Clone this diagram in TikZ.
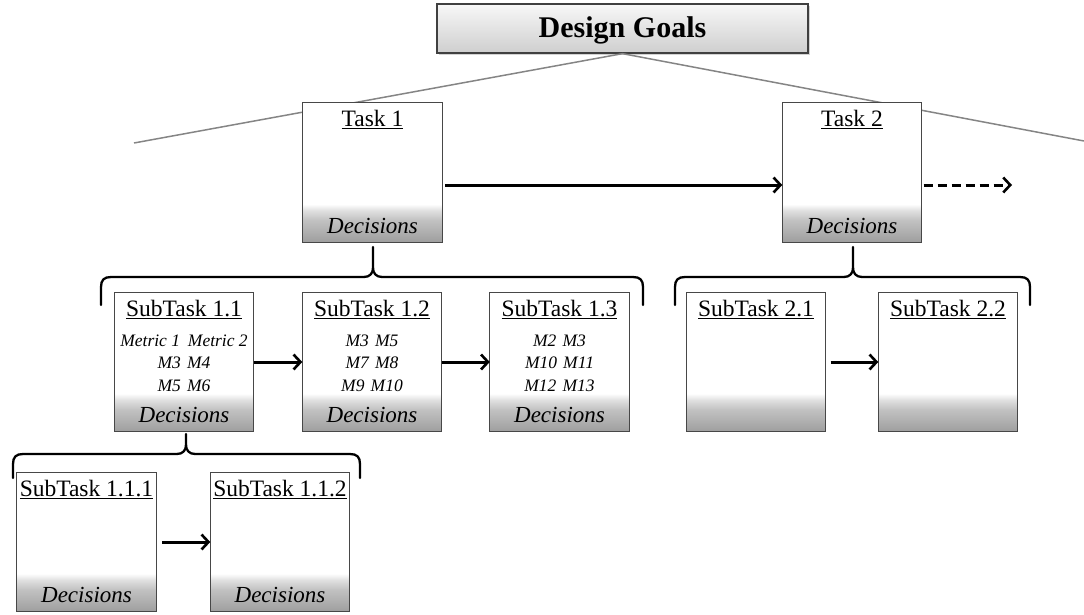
\documentclass[tikz,border=0pt]{standalone}
\usepackage{fontspec}
\setmainfont{Liberation Serif}
\usetikzlibrary{arrows.meta,shadows}

% vertical fade for the decision band: dark at the bottom, pale at the top
\pgfdeclareverticalshading{bandfade}{100bp}{%
  color(0bp)=(black!38); color(25bp)=(black!38);
  color(55bp)=(black!24); color(68bp)=(black!12);
  color(75bp)=(black!2); color(100bp)=(black!2)}

% curly group brace: left x, tip x, right x, bar y, leg length, tip height
\newcommand\groupbrace[6]{%
  \draw[bracestyle] (#1,#4+#5) -- (#1,#4+10)
    .. controls (#1,#4+3) and (#1+3,#4) .. (#1+10,#4)
    -- (#2-9,#4) .. controls (#2-3,#4) and (#2,#4-4) .. (#2,#4-9)
    -- (#2,#4-#6);
  \draw[bracestyle] (#2,#4-9) .. controls (#2,#4-4) and (#2+3,#4) .. (#2+9,#4)
    -- (#3-10,#4) .. controls (#3-3,#4) and (#3,#4+3) .. (#3,#4+10)
    -- (#3,#4+#5);
}

\begin{document}
\begin{tikzpicture}[x=1pt,y=-1pt,
  taskbox/.style={fill=white,
    minimum width=139pt, minimum height=139pt, inner sep=0pt},
  boxline/.style={draw=black!72, line width=1.2pt},
  band/.style={shading=bandfade},
  goalbox/.style={draw=black!75, line width=1.3pt,
    top color=gray!6, bottom color=gray!38,
    minimum width=371pt, minimum height=49pt, inner sep=0pt,
    drop shadow={opacity=0.35, shadow xshift=1.5pt, shadow yshift=-2pt}},
  title/.style={anchor=base, font=\fontsize{23.5}{26}\selectfont, inner sep=0pt},
  decision/.style={anchor=base, font=\fontsize{23}{26}\selectfont\itshape, inner sep=0pt},
  metrics/.style={align=center, font=\fontsize{17.5}{22.5}\selectfont\itshape, inner sep=0pt},
  flow/.style={line width=3pt, -{Straight Barb[length=7pt,width=15pt,line width=2.6pt]}},
  branch/.style={draw=black!48, line width=1.5pt},
  bracestyle/.style={line width=2.3pt, line cap=round, line join=round}
]
\useasboundingbox (0,0) rectangle (1084,615);

% top goal box and its branch lines
\node[goalbox] (goals) at (622.5,28.5) {};
\node[font=\fontsize{30}{34}\selectfont\bfseries] (goalstext) at (622.5,30) {Design Goals};
\coordinate (leftend) at (134,143);
\coordinate (rightend) at (1084,141);
\draw[branch] (leftend) -- (goals.south) -- (rightend);

% task level
\node[taskbox] (t1) at (372.5,172.5) {};
\node[taskbox] (t2) at (852,172.5) {};

% subtask level
\node[taskbox] (s11) at (184,362) {};
\node[taskbox] (s12) at (372,362) {};
\node[taskbox] (s13) at (559.5,362) {};
\node[taskbox] (s21) at (756,362) {};
\node[taskbox] (s22) at (948,362) {};

% sub-subtask level
\node[taskbox] (s111) at (86.5,542) {};
\node[taskbox] (s112) at (280,542) {};

% shaded decision bands and box outlines
\foreach \b in {t1, t2, s11, s12, s13, s21, s22, s111, s112} {
  \shade[band] ([yshift=37pt]\b.south west) rectangle (\b.south east);
  \draw[boxline] (\b.south west) rectangle (\b.north east);
}

% titles
\foreach \b/\t in {t1/Task 1, t2/Task 2, s11/SubTask 1.1, s12/SubTask 1.2,
    s13/SubTask 1.3, s21/SubTask 2.1, s22/SubTask 2.2,
    s111/SubTask 1.1.1, s112/SubTask 1.1.2}
  \node[title] (\b-title) at ([yshift=-24pt]\b.north) {\underline{\t}};

% decision labels
\foreach \b in {t1, t2, s11, s12, s13, s111, s112}
  \node[decision] (\b-dec) at ([yshift=9pt]\b.south) {Decisions};

% metrics
\node[metrics] (s11-m) at ([yshift=-1pt]s11.center) {Metric 1\hspace{0.45em}Metric 2\\M3\hspace{0.35em}M4\\M5\hspace{0.35em}M6};
\node[metrics] (s12-m) at ([yshift=-1pt]s12.center) {M3\hspace{0.35em}M5\\M7\hspace{0.35em}M8\\M9\hspace{0.35em}M10};
\node[metrics] (s13-m) at ([yshift=-1pt]s13.center) {M2\hspace{0.35em}M3\\M10\hspace{0.35em}M11\\M12\hspace{0.35em}M13};

% sequence arrows
\draw[flow, shorten <=3pt] ([yshift=-12.5pt]t1.east) -- ([yshift=-12.5pt]t2.west);
\coordinate (next) at (1012,185);
\draw[flow, dash pattern=on 9pt off 5pt, shorten <=2pt] ([yshift=-12.5pt]t2.east) -- (next);
\draw[flow] (s11.east) -- (s12.west);
\draw[flow] (s12.east) -- (s13.west);
\draw[flow, shorten <=5pt] (s21.east) -- (s22.west);
\draw[flow, shorten <=6pt] (s111.east) -- (s112.west);

% group braces
\groupbrace{101}{373}{643}{277}{28}{30}
\groupbrace{675}{853}{1030}{277}{28}{30}
\groupbrace{13}{186}{360}{454}{24}{20}
\end{tikzpicture}
\end{document}
